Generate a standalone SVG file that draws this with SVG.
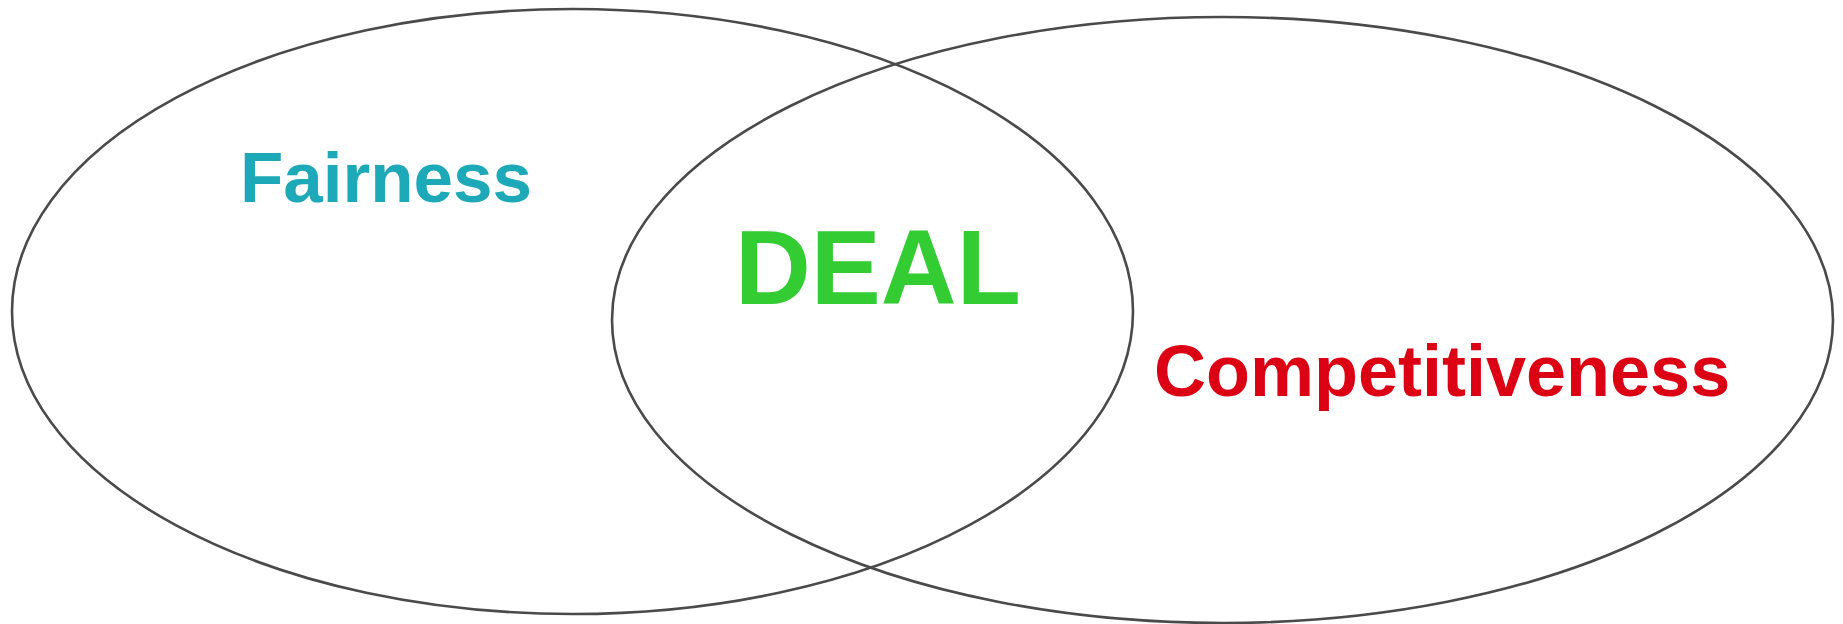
<svg xmlns="http://www.w3.org/2000/svg" width="1843" height="624" viewBox="0 0 1843 624">
  <style>
    .ring { fill: none; stroke: #4a4a4a; stroke-width: 2.6; }
    .lbl { font-family: "Liberation Sans", Arial, sans-serif; font-weight: bold; }
  </style>
  <rect width="1843" height="624" fill="#ffffff"/>
  <g id="fairness-set">
    <ellipse class="ring" cx="572.5" cy="311.5" rx="560.5" ry="302.5"/>
  </g>
  <g id="competitiveness-set">
    <ellipse class="ring" cx="1222.5" cy="320" rx="610.5" ry="303"/>
  </g>
  <g id="fairness-label">
    <text class="lbl" x="240" y="202" font-size="71" fill="#1ea9b8">Fairness</text>
  </g>
  <g id="deal-label">
    <text class="lbl" x="735" y="304" font-size="105" fill="#33cc33">DEAL</text>
  </g>
  <g id="competitiveness-label">
    <text class="lbl" x="1154" y="396" font-size="72" fill="#dc0014">Competitiveness</text>
  </g>
  <g id="connectors"/>
</svg>
